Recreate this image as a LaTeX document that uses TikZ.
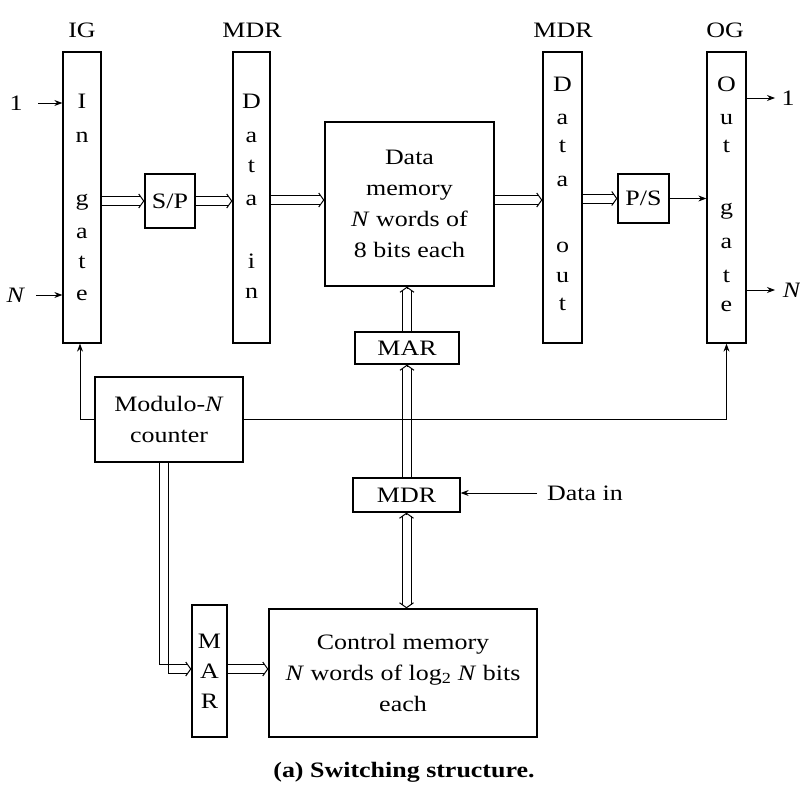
\documentclass[tikz,border=0pt]{standalone}
\usepackage{fontspec}
\setmainfont{Liberation Serif}[FakeStretch=1.18]
\usetikzlibrary{arrows.meta,calc}
\newcommand\dblarr[2]{%
  \draw[rail, shorten >=3pt] ($(#1)!4.5pt!90:(#2)$) -- ($(#2)!4.5pt!-90:(#1)$);
  \draw[rail, shorten >=3pt] ($(#1)!4.5pt!-90:(#2)$) -- ($(#2)!4.5pt!90:(#1)$);
  \draw[dhead] ($(#2)!1pt!(#1)$) -- (#2);}
\newcommand\dblarrb[2]{%
  \draw[rail, shorten >=3pt, shorten <=3pt] ($(#1)!4.5pt!90:(#2)$) -- ($(#2)!4.5pt!-90:(#1)$);
  \draw[rail, shorten >=3pt, shorten <=3pt] ($(#1)!4.5pt!-90:(#2)$) -- ($(#2)!4.5pt!90:(#1)$);
  \draw[dhead] ($(#2)!1pt!(#1)$) -- (#2);
  \draw[dhead] ($(#1)!1pt!(#2)$) -- (#1);}
\begin{document}
\begin{tikzpicture}[x=1pt,y=-1pt,
  every node/.style={font=\fontsize{22}{31}\selectfont},
  box/.style={draw, line width=1.3pt, rectangle, inner sep=0pt, align=center},
  lt/.style={inner sep=0pt, text height=10pt, text depth=0pt},
  sarr/.style={line width=0.9pt, -{Stealth[length=8pt,width=6pt]}},
  rail/.style={line width=1pt},
  dhead/.style={line width=1pt, -{Straight Barb[length=5pt,width=14pt]}}
]
\useasboundingbox (0,0) rectangle (800,784);

% column boxes
\node[box, minimum width=38pt, minimum height=291pt] (IG) at (82,197.5) {};
\node[box, minimum width=37pt, minimum height=291pt] (DI) at (251.5,197.5) {};
\node[box, minimum width=169pt, minimum height=164pt] (DM) at (409.5,204) {Data\\memory\\\textit{N} words of\\8 bits each};
\node[box, minimum width=39pt, minimum height=291pt] (DO) at (562.5,197.5) {};
\node[box, minimum width=39pt, minimum height=291pt] (OG) at (726.5,197.5) {};
\node[box, minimum width=50pt, minimum height=54pt] (SP) at (170,201) {S/P};
\node[box, minimum width=51pt, minimum height=49pt] (PS) at (643.5,198.5) {P/S};
\node[box, minimum width=104pt, minimum height=32pt] (MAR) at (407,348) {MAR};
\node[box, minimum width=107pt, minimum height=34pt] (MDR) at (406.5,495) {MDR};
\node[box, minimum width=148pt, minimum height=85pt] (CNT) at (169,419.5) {Modulo-\textit{N}\\counter};
\node[box, minimum width=35pt, minimum height=132pt] (BMAR) at (209.5,671) {};
\node[box, minimum width=268pt, minimum height=128pt] (CM) at (403,673) {Control memory\\\textit{N} words of log\textsubscript{2} \textit{N} bits\\each};

% top labels
\node (lIG) at (82,30) {IG};
\node (lDI) at (252,30) {MDR};
\node (lDO) at (563,30) {MDR};
\node (lOG) at (725,30) {OG};

% letters
\node[lt] (ig1) at (82,103) {I};
\node[lt] (ig2) at (82,137) {n};
\node[lt] (ig3) at (82,200) {g};
\node[lt] (ig4) at (82,233) {a};
\node[lt] (ig5) at (82,263) {t};
\node[lt] (ig6) at (82,295) {e};

\node[lt] (di1) at (251.5,103) {D};
\node[lt] (di2) at (251.5,137) {a};
\node[lt] (di3) at (251.5,167) {t};
\node[lt] (di4) at (251.5,200) {a};
\node[lt] (di5) at (251.5,263) {i};
\node[lt] (di6) at (251.5,293) {n};

\node[lt] (do1) at (562.5,87) {D};
\node[lt] (do2) at (562.5,119) {a};
\node[lt] (do3) at (562.5,147) {t};
\node[lt] (do4) at (562.5,181) {a};
\node[lt] (do5) at (562.5,247) {o};
\node[lt] (do6) at (562.5,277) {u};
\node[lt] (do7) at (562.5,305) {t};

\node[lt] (og1) at (726.5,87) {O};
\node[lt] (og2) at (726.5,119) {u};
\node[lt] (og3) at (726.5,147) {t};
\node[lt] (og4) at (726.5,209) {g};
\node[lt] (og5) at (726.5,243) {a};
\node[lt] (og6) at (726.5,277) {t};
\node[lt] (og7) at (726.5,306) {e};

\node[lt] (bm1) at (209.5,643) {M};
\node[lt] (bm2) at (209.5,673) {A};
\node[lt] (bm3) at (209.5,703) {R};

% inputs / outputs
\node (in1) at (16,103) {1};
\node (inN) at (16,295) {\textit{N}};
\node (out1) at (788,98) {1};
\node (outN) at (792,290) {\textit{N}};
\coordinate (i1s) at (38,103);
\coordinate (iNs) at (36,295);
\coordinate (o1e) at (775,98);
\coordinate (oNe) at (775,290);
\draw[sarr] (i1s) -- (i1s -| IG.west);
\draw[sarr] (iNs) -- (iNs -| IG.west);
\draw[sarr] (o1e -| OG.east) -- (o1e);
\draw[sarr] (oNe -| OG.east) -- (oNe);

% data path (double arrows)
\coordinate (dmy) at (300,200);
\coordinate (a1s) at (SP.west -| IG.east);
\coordinate (a1e) at (SP.west);
\coordinate (a2s) at (SP.east);
\coordinate (a2e) at (SP.east -| DI.west);
\coordinate (a3s) at (dmy -| DI.east);
\coordinate (a3e) at (dmy -| DM.west);
\coordinate (a4s) at (dmy -| DM.east);
\coordinate (a4e) at (dmy -| DO.west);
\coordinate (a5s) at (PS.west -| DO.east);
\coordinate (a5e) at (PS.west);
\dblarr{a1s}{a1e}
\dblarr{a2s}{a2e}
\dblarr{a3s}{a3e}
\dblarr{a4s}{a4e}
\dblarr{a5s}{a5e}
\draw[sarr] (PS.east) -- (PS.east -| OG.west);

% address / control paths
\coordinate (a6s) at (MAR.north);
\coordinate (a6e) at (MAR.north |- DM.south);
\coordinate (a7s) at (MAR.south |- MDR.north);
\coordinate (a7e) at (MAR.south);
\coordinate (a8s) at (MDR.south);
\coordinate (a8e) at (MDR.south |- CM.north);
\dblarr{a6s}{a6e}
\dblarr{a7s}{a7e}
\dblarrb{a8s}{a8e}

\coordinate (dinS) at (537,493);
\node (dinL) at (585,493) {Data in};
\draw[sarr] (dinS) -- (dinS -| MDR.east);

\draw[sarr] (CNT.west) -| ([xshift=-2pt]IG.south);
\draw[sarr] (CNT.east) -| (OG.south);

% counter to bottom MAR (double, bent)
\coordinate (cs) at ([xshift=-5pt]CNT.south);
\coordinate (ce) at ([yshift=2pt]BMAR.west);
\draw[rail] ([xshift=-4.5pt]cs) |- ([yshift=4.5pt,xshift=-3pt]ce);
\draw[rail] ([xshift=4.5pt]cs) |- ([yshift=-4.5pt,xshift=-3pt]ce);
\draw[dhead] ([xshift=-1pt]ce) -- (ce);

\coordinate (a9s) at ([yshift=2pt]BMAR.east);
\coordinate (a9e) at (a9s -| CM.west);
\dblarr{a9s}{a9e}

% caption
\node[font=\fontsize{22}{26}\selectfont\bfseries] (cap) at (404,772) {(a) Switching structure.};
\end{tikzpicture}
\end{document}
